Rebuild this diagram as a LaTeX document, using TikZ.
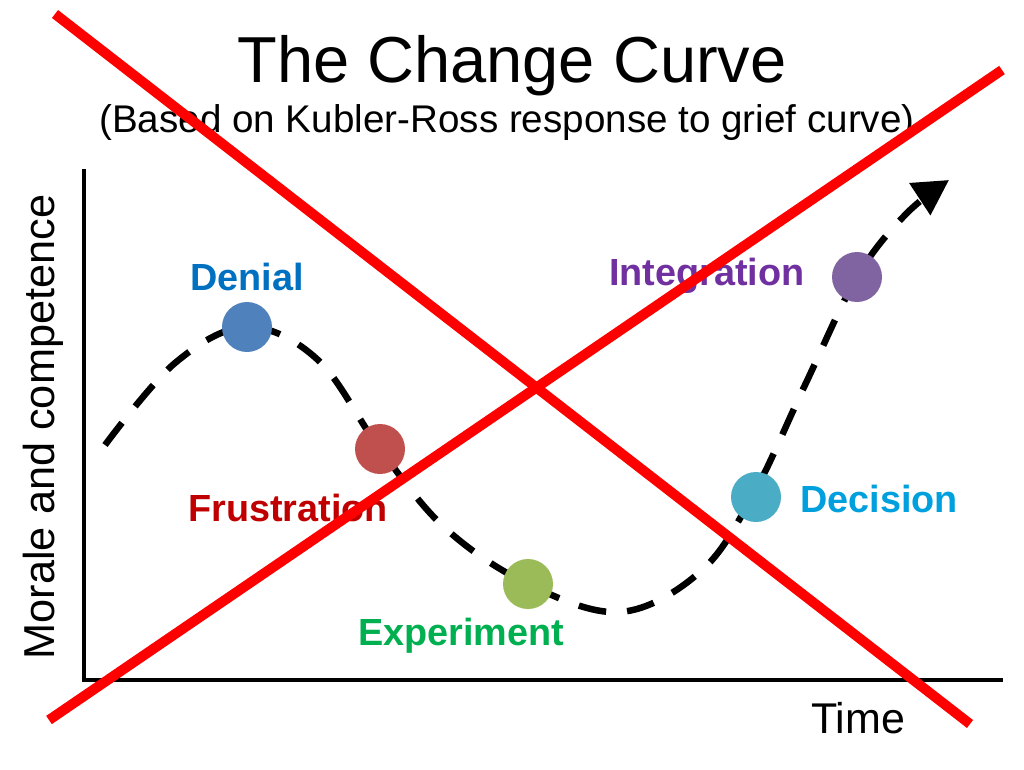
\documentclass[tikz,border=0pt]{standalone}
\usepackage{fontspec}
\setmainfont{Liberation Sans}
\usetikzlibrary{arrows.meta}
\definecolor{denialdot}{RGB}{79,129,189}
\definecolor{denialtext}{RGB}{0,112,192}
\definecolor{frustrationdot}{RGB}{192,80,77}
\definecolor{frustrationtext}{RGB}{192,0,0}
\definecolor{experimentdot}{RGB}{155,187,89}
\definecolor{experimenttext}{RGB}{0,176,80}
\definecolor{decisiondot}{RGB}{75,172,198}
\definecolor{decisiontext}{RGB}{0,160,222}
\definecolor{integrationdot}{RGB}{128,100,162}
\definecolor{integrationtext}{RGB}{112,48,160}
\begin{document}
\begin{tikzpicture}[x=1pt, y=-1pt,
    stage/.style={circle, minimum size=50pt, inner sep=0pt},
    stagelabel/.style={anchor=base, font=\bfseries\fontsize{37.8}{45}\selectfont},
    crossline/.style={red, line width=10pt},
    axisline/.style={line width=4.5pt}]
            \useasboundingbox (0,0) rectangle (1024,770);

            % Titolo e sottotitolo
            \node[anchor=base, font=\fontsize{65}{78}\selectfont] (title) at (512,83) {The Change Curve};
            \node[anchor=base, font=\fontsize{38.6}{46}\selectfont] (subtitle) at (507,133) {(Based on Kubler-Ross response to grief curve)};

            % Assi del grafico
            \coordinate (ytop) at (84,169);
            \coordinate (origin) at (84,680);
            \coordinate (xend) at (1003,680);
            \draw[axisline] (ytop) -- (origin) -- (xend);
            \node[rotate=90, anchor=base, font=\fontsize{43.3}{52}\selectfont] (ylabel) at (54,427) {Morale and competence};
            \node[anchor=base, font=\fontsize{43}{52}\selectfont] (xlabel) at (858,733) {Time};

            % Punti della curva
            \coordinate (start) at (105,445);
            \coordinate (rise) at (175,363);
            \coordinate (den) at (247,327);
            \coordinate (fall) at (318,360);
            \coordinate (fru) at (380,449);
            \coordinate (slope) at (445,528);
            \coordinate (exp) at (528,584);
            \coordinate (bottom) at (620,612);
            \coordinate (climb) at (700,572);
            \coordinate (dec) at (752,497);
            \coordinate (steep) at (805,385);
            \coordinate (int) at (857,277);
            \coordinate (last) at (905,215);
            \coordinate (tip) at (949,180);

            % Curva tratteggiata con freccia
            \draw[line width=6.5pt, dash pattern=on 28pt off 21pt, -{Triangle[length=35pt,width=37pt]}]
                plot[smooth, tension=0.6] coordinates {(start) (rise) (den) (fall) (fru) (slope) (exp) (bottom) (climb) (dec) (steep) (int) (last) (tip)};

            % Cerchio e nome per "Denial"
            \node[stage, fill=denialdot] (denial) at (den) {};
            \node[stagelabel, text=denialtext] (denialname) at (247,290) {Denial};

            % Cerchio e nome per "Frustration"
            \node[stage, fill=frustrationdot] (frustration) at (fru) {};
            \node[stagelabel, text=frustrationtext] (frustrationname) at (288,521) {Frustration};

            % Cerchio e nome per "Experiment"
            \node[stage, fill=experimentdot] (experiment) at (exp) {};
            \node[stagelabel, text=experimenttext] (experimentname) at (461,645) {Experiment};

            % Cerchio e nome per "Decision"
            \node[stage, fill=decisiondot] (decision) at (756,497) {};
            \node[stagelabel, text=decisiontext] (decisionname) at (879,512) {Decision};

            % Cerchio e nome per "Integration"
            \node[stage, fill=integrationdot] (integration) at (int) {};
            \node[stagelabel, text=integrationtext] (integrationname) at (707,285) {Integration};

            % Croce rossa sopra tutto
            \coordinate (crossa) at (55,14);
            \coordinate (crossb) at (970,724);
            \coordinate (crossc) at (49,720);
            \coordinate (crossd) at (1002,70);
            \draw[crossline] (crossa) -- (crossb);
            \draw[crossline] (crossc) -- (crossd);
        \end{tikzpicture}
\end{document}
